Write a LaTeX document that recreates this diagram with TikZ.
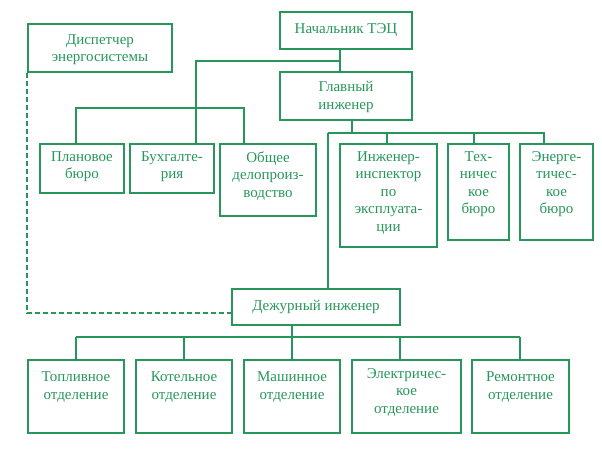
\documentclass[tikz,border=0pt]{standalone}
\usepackage{fontspec}
\setmainfont{Liberation Serif}
\usepackage{tikz}
\usetikzlibrary{calc}
\definecolor{tec}{RGB}{38,150,90}

\begin{document}
\begin{tikzpicture}[x=1pt,y=-1pt,
unit/.style={draw=tec,line width=1.3pt,inner sep=0pt,text=tec,align=center,font=\fontsize{15}{17.5}\selectfont},
lbl/.style={anchor=north,inner sep=0pt,yshift=-8pt,text=tec,align=center,font=\fontsize{15}{17.5}\selectfont},
link/.style={draw=tec,line width=1.3pt},
liaison/.style={link,line width=1.8pt,dash pattern=on 5pt off 3pt}]

\useasboundingbox (0,0) rectangle (602,449);

% top level
\node[unit,minimum width=144,minimum height=48,label={[lbl,yshift=-3pt]north:Диспетчер\\энергосистемы}] (dispatch) at (100,48) {};
\node[unit,minimum width=132,minimum height=37] (chief) at (346,30.5) {Начальник ТЭЦ};
\node[unit,minimum width=132,minimum height=48,label={[lbl,yshift=-2pt]north:Главный\\инженер}] (main) at (346,96) {};

% bureaus
\node[unit,minimum width=84,minimum height=49,label={[lbl]north:Плановое\\бюро}] (plan) at (82,168.5) {};
\node[unit,minimum width=84,minimum height=49,label={[lbl]north:Бухгалте-\\рия}] (account) at (172,168.5) {};
\node[unit,minimum width=96,minimum height=72,label={[lbl]north:Общее\\делопроиз-\\водство}] (office) at (268,180) {};
\node[unit,minimum width=97,minimum height=103,label={[lbl]north:Инженер-\\инспектор\\по\\эксплуата-\\ции}] (inspect) at (388.5,195.5) {};
\node[unit,minimum width=61,minimum height=96,label={[lbl]north:Тех-\\ничес\\кое\\бюро}] (techbur) at (478.5,192) {};
\node[unit,minimum width=73,minimum height=96,label={[lbl]north:Энерге-\\тичес-\\кое\\бюро}] (energbur) at (556.5,192) {};

% shift
\node[unit,minimum width=168,minimum height=36] (duty) at (316,307) {Дежурный инженер};

% departments
\node[unit,minimum width=96,minimum height=73,label={[lbl,yshift=-4pt,font=\fontsize{15}{18.5}\selectfont]north:Топливное\\отделение}] (fuel) at (76,396.5) {};
\node[unit,minimum width=96,minimum height=73,label={[lbl,yshift=-4pt,font=\fontsize{15}{18.5}\selectfont]north:Котельное\\отделение}] (boiler) at (184,396.5) {};
\node[unit,minimum width=96,minimum height=73,label={[lbl,yshift=-4pt,font=\fontsize{15}{18.5}\selectfont]north:Машинное\\отделение}] (turbine) at (292,396.5) {};
\node[unit,minimum width=109,minimum height=73,label={[lbl,yshift=-1pt]north:Электричес-\\кое\\отделение}] (electric) at (406.5,396.5) {};
\node[unit,minimum width=97,minimum height=73,label={[lbl,yshift=-4pt,font=\fontsize{15}{18.5}\selectfont]north:Ремонтное\\отделение}] (repair) at (520.5,396.5) {};

% links
\coordinate (hubA) at (340,61);
\coordinate (hubAw) at (196,61);
\draw[link] (chief.south -| hubA) -- (main.north -| hubA);
\draw[link] (hubA) -- (hubAw) -- (account.north -| hubAw);
\coordinate (hubB) at (76,108);
\coordinate (hubBe) at (244,108);
\draw[link] (plan.north -| hubB) -- (hubB) -- (hubBe) -- (office.north -| hubBe);

\coordinate (hubC) at (352,133);
\coordinate (hubCw) at (328,133);
\coordinate (hubCe) at (544,133);
\coordinate (tapI) at (387,133);
\coordinate (tapT) at (474,133);
\draw[link] (main.south -| hubC) -- (hubC);
\draw[link] (hubCw) -- (hubCe) -- (energbur.north -| hubCe);
\draw[link] (tapI) -- (inspect.north -| tapI);
\draw[link] (tapT) -- (techbur.north -| tapT);
\draw[link] (hubCw) -- (duty.north -| hubCw);

\coordinate (hubD) at (292,337);
\coordinate (hubDw) at (76,337);
\coordinate (hubDe) at (520,337);
\coordinate (tapB) at (184,337);
\coordinate (tapE) at (400,337);
\draw[link] (duty.south -| hubD) -- (hubD);
\draw[link] (hubDw) -- (hubDe);
\draw[link] (hubDw) -- (fuel.north -| hubDw);
\draw[link] (tapB) -- (boiler.north -| tapB);
\draw[link] (hubD) -- (turbine.north -| hubD);
\draw[link] (tapE) -- (electric.north -| tapE);
\draw[link] (hubDe) -- (repair.north -| hubDe);

% dispatcher
\coordinate (dashy) at (0,313);
\draw[liaison] (dispatch.south west) |- (duty.west |- dashy);
\end{tikzpicture}
\end{document}
